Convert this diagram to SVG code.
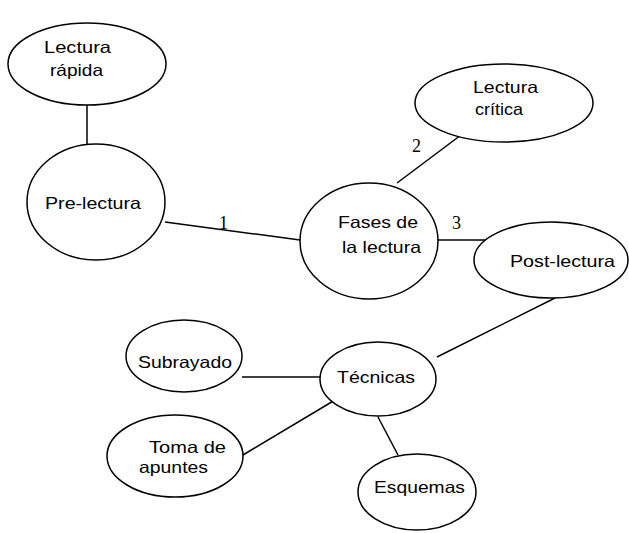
<svg xmlns="http://www.w3.org/2000/svg" width="629" height="533" viewBox="0 0 629 533">
<style>
.n{fill:#fff;stroke:#000;stroke-width:1.5}
.t{font-family:"Liberation Sans",Arial,sans-serif;font-size:16.5px;fill:#000}
.c line{stroke:#000;stroke-width:1.5}
.num{font-family:"Liberation Serif","Times New Roman",serif;font-size:18px;fill:#000}
</style>
<rect width="629" height="533" fill="#fff"/>
<g class="c" id="connectors">
<line x1="87" y1="105" x2="87" y2="144"/>
<line x1="165" y1="222" x2="300" y2="240"/>
<line x1="397" y1="183" x2="477" y2="123"/>
<line x1="438" y1="240" x2="497" y2="240"/>
<line x1="437" y1="357" x2="555" y2="298"/>
<line x1="242" y1="377" x2="320" y2="377"/>
<line x1="243" y1="455" x2="340" y2="397"/>
<line x1="378" y1="417" x2="398" y2="455"/>
<text class="num" x="219" y="229">1</text>
<text class="num" x="412" y="152">2</text>
<text class="num" x="452" y="229">3</text>
</g>
<g id="lectura-rapida">
<ellipse class="n" cx="87" cy="64" rx="79" ry="41"/>
<text class="t" x="44" y="53" textLength="67" lengthAdjust="spacingAndGlyphs">Lectura</text>
<text class="t" x="50" y="76" textLength="53" lengthAdjust="spacingAndGlyphs">rápida</text>
</g>
<g id="pre-lectura">
<ellipse class="n" cx="96" cy="202" rx="69" ry="58"/>
<text class="t" x="45" y="209" textLength="96" lengthAdjust="spacingAndGlyphs">Pre-lectura</text>
</g>
<g id="fases">
<ellipse class="n" cx="369" cy="241" rx="69" ry="58"/>
<text class="t" x="338" y="228" textLength="80" lengthAdjust="spacingAndGlyphs">Fases de</text>
<text class="t" x="342" y="253" textLength="79" lengthAdjust="spacingAndGlyphs">la lectura</text>
</g>
<g id="lectura-critica">
<ellipse class="n" cx="504" cy="103" rx="89" ry="39"/>
<text class="t" x="473" y="93" textLength="65" lengthAdjust="spacingAndGlyphs">Lectura</text>
<text class="t" x="475" y="115" textLength="48" lengthAdjust="spacingAndGlyphs">crítica</text>
</g>
<g id="post-lectura">
<ellipse class="n" cx="551" cy="260" rx="77" ry="38"/>
<text class="t" x="510" y="267" textLength="105" lengthAdjust="spacingAndGlyphs">Post-lectura</text>
</g>
<g id="tecnicas">
<ellipse class="n" cx="378" cy="379" rx="58" ry="37"/>
<text class="t" x="337" y="383" textLength="78" lengthAdjust="spacingAndGlyphs">Técnicas</text>
</g>
<g id="subrayado">
<ellipse class="n" cx="184" cy="356" rx="58" ry="36"/>
<text class="t" x="138" y="368" textLength="94" lengthAdjust="spacingAndGlyphs">Subrayado</text>
</g>
<g id="toma-de-apuntes">
<ellipse class="n" cx="175" cy="456" rx="68" ry="41"/>
<text class="t" x="149" y="453" textLength="77" lengthAdjust="spacingAndGlyphs">Toma de</text>
<text class="t" x="139" y="473" textLength="69" lengthAdjust="spacingAndGlyphs">apuntes</text>
</g>
<g id="esquemas">
<ellipse class="n" cx="417" cy="492" rx="59" ry="38"/>
<text class="t" x="374" y="493" textLength="91" lengthAdjust="spacingAndGlyphs">Esquemas</text>
</g>
</svg>
